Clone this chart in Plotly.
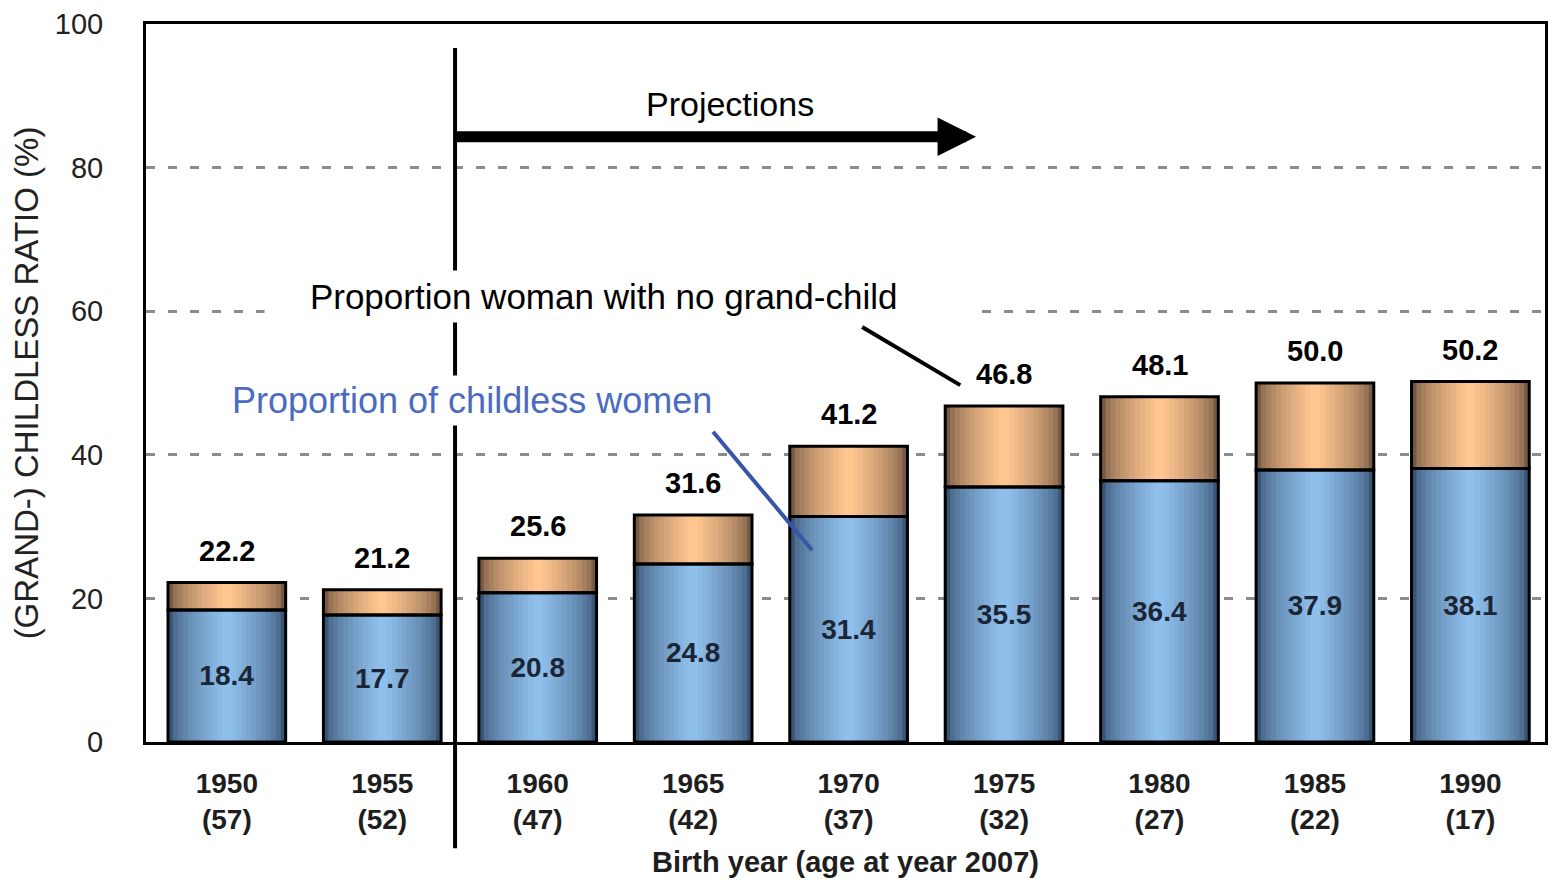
import plotly.graph_objects as go

# ── data ────────────────────────────────────────────────
birth_year = ["1950", "1955", "1960", "1965", "1970", "1975", "1980", "1985", "1990"]
age_2007 = ["57", "52", "47", "42", "37", "32", "27", "22", "17"]
childless = [18.4, 17.7, 20.8, 24.8, 31.4, 35.5, 36.4, 37.9, 38.1]
no_grandchild = [22.2, 21.2, 25.6, 31.6, 41.2, 46.8, 48.1, 50.0, 50.2]

FONT = "Liberation Sans, Arial, sans-serif"
BAR_W = 0.757
N_STEPS = 12

x = list(range(len(birth_year)))
extra = [round(t - c, 1) for t, c in zip(no_grandchild, childless)]


def mix(c1, c2, t):
    a = [int(c1[i:i + 2], 16) for i in (1, 3, 5)]
    b = [int(c2[i:i + 2], 16) for i in (1, 3, 5)]
    return "rgb({},{},{})".format(*[round(p + (q - p) * t) for p, q in zip(a, b)])


fig = go.Figure()

# fake horizontal gradient: nested bars, narrower ones lighter
for k in range(N_STEPS):
    t = k / (N_STEPS - 1)
    w = BAR_W * (1 - k / N_STEPS)
    fig.add_trace(go.Bar(x=x, y=childless, base=0, width=w,
                         marker=dict(color=mix("#3a5476", "#8fc0ec", t ** 0.6), line_width=0),
                         hoverinfo="skip", showlegend=False))
    fig.add_trace(go.Bar(x=x, y=extra, base=childless, width=w,
                         marker=dict(color=mix("#765a44", "#ffc690", t ** 0.6), line_width=0),
                         hoverinfo="skip", showlegend=False))

# outlines + inner labels
fig.add_trace(go.Bar(
    x=x, y=childless, base=0, width=BAR_W,
    marker=dict(color="rgba(0,0,0,0)", line=dict(color="black", width=3)),
    text=[f"{v:.1f}" for v in childless], textposition="inside",
    insidetextanchor="middle", textangle=0,
    textfont=dict(family=FONT, size=28, color="#1b2536", weight="bold"),
    hoverinfo="skip", showlegend=False,
))
fig.add_trace(go.Bar(
    x=x, y=extra, base=childless, width=BAR_W,
    marker=dict(color="rgba(0,0,0,0)", line=dict(color="black", width=3)),
    hoverinfo="skip", showlegend=False,
))

ann = []
for xi, tot in zip(x, no_grandchild):
    ann.append(dict(x=xi, y=tot, text=f"{tot:.1f}", showarrow=False,
                    yanchor="bottom", yshift=14,
                    font=dict(family=FONT, size=29, color="black", weight="bold")))

ann += [
    dict(x=3.24, y=88.9, text="Projections", showarrow=False,
         font=dict(family=FONT, size=34, color="black")),
    dict(x=4.82, y=84.3, ax=1.468, ay=84.3, axref="x", ayref="y", text="",
         showarrow=True, arrowhead=2, arrowsize=0.7, arrowwidth=11, arrowcolor="black"),
    dict(x=2.546, y=62.0, text="    Proportion woman with no grand-child        ",
         showarrow=False, bgcolor="white", borderpad=6,
         font=dict(family=FONT, size=35, color="black")),
    dict(x=1.58, y=47.6, text="Proportion of childless women", showarrow=False,
         bgcolor="white", borderpad=4,
         font=dict(family=FONT, size=36, color="#4a6bbf")),
]

shapes = [
    # projections divider, runs past the axis
    dict(type="line", xref="paper", yref="paper", x0=0.2209, x1=0.2209,
         y0=0.9666, y1=-0.148, line=dict(color="black", width=4)),
    dict(type="line", xref="x", yref="y", x0=4.087, y0=57.8, x1=4.718, y1=49.7,
         line=dict(color="black", width=4)),
    dict(type="line", xref="x", yref="y", x0=3.128, y0=43.2, x1=3.765, y1=26.7,
         line=dict(color="#3a55a8", width=4)),
]

# page body has an 8px margin, so the figure is sized/offset to land on the reference frame
fig.update_layout(
    width=1545, height=870,
    barmode="overlay",
    paper_bgcolor="white", plot_bgcolor="white",
    margin=dict(l=138, r=8, t=16, b=136),
    font=dict(family=FONT, color="black"),
    annotations=ann, shapes=shapes,
    showlegend=False,
)
fig.update_xaxes(
    range=[-0.52, 8.48], tickmode="array", tickvals=x,
    ticktext=[f"{b}<br>({a})" for b, a in zip(birth_year, age_2007)],
    tickfont=dict(family=FONT, size=28, color="#1e1e1e", weight="bold"),
    ticklabelstandoff=14, automargin=False,
    showline=True, mirror=True, linecolor="black", linewidth=3,
    showgrid=False, zeroline=False,
    title=dict(text="Birth year (age at year 2007)", standoff=22,
               font=dict(family=FONT, size=29, color="#1e1e1e", weight="bold")),
)
fig.update_yaxes(
    range=[0, 100], tickvals=[0, 20, 40, 60, 80, 100],
    tickfont=dict(family=FONT, size=29, color="#222"),
    ticklabelstandoff=34, automargin=False,
    showline=True, mirror=True, linecolor="black", linewidth=3,
    showgrid=True, gridcolor="#8c8c8c", gridwidth=3, griddash="9px,13px",
    zeroline=False,
    title=dict(text="(GRAND-) CHILDLESS RATIO (%)", standoff=10,
               font=dict(family=FONT, size=33, color="#222")),
)

fig.write_html("out.html")
